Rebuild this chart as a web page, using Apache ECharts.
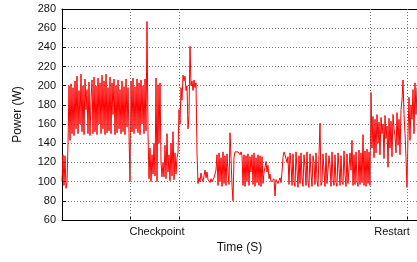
<!DOCTYPE html>
<html>
<head>
<meta charset="utf-8">
<script src="https://cdn.jsdelivr.net/npm/echarts@6/dist/echarts.min.js"></script>
<style>
  html, body { margin: 0; padding: 0; background: #fff; }
  #chart { width: 417px; height: 262px; }
</style>
</head>
<body>
<div id="chart"></div>
<script>
// power samples (W), one per time step
const warmup = [100, 128, 96, 127, 93, 99];
const computeBefore = [
  140, 200, 143, 202, 150, 198, 148, 205, 155, 210,
  150, 195, 160, 212, 152, 200, 149, 207, 175, 196,
  150, 204, 148, 185, 206, 150, 209, 152, 200, 149,
  208, 160, 203, 150, 211, 155, 205, 149, 212, 151,
  198, 153, 209, 150, 203, 170, 207, 149, 200, 151,
  206, 155, 196, 150, 205, 152, 199, 149, 207, 157,
  198, 150,
  100,
  205, 152, 208, 150, 199, 155, 207, 151, 203, 149,
  206, 160, 200, 150, 207, 153
];
const checkpoint = [
  267,
  150, 103, 135, 100, 128, 108, 140,
  106, 208, 100, 201, 140, 203, 120,
  105,
  120, 105, 138, 103, 150, 110, 128, 101, 140, 106, 152, 102, 130, 108, 125,
  130, 175, 160, 198, 185,
  211, 205, 210, 195, 200,
  155, 170,
  241, 200,
  205, 195, 206, 198, 203,
  130
];
const idleAfter = [
  98, 104, 100, 109, 103, 100, 106, 112, 104, 110,
  102, 101, 99, 103, 100, 98, 104, 106, 112,
  128, 96, 130, 100, 125, 95, 131, 98, 127, 96, 129, 110, 97, 151, 124, 96,
  80,
  125, 131, 130, 132, 131, 129, 128, 131, 127,
  96, 128, 95, 127, 100, 129, 96, 126, 110, 128, 97, 130, 95, 125, 99, 128,
  96, 127, 95, 126, 98, 110,
  115, 121, 110, 117, 103, 108, 100,
  101, 99, 103, 85, 102, 100, 98, 101, 104, 99,
  110, 125, 131, 128, 130, 120, 126, 97
];
const computeLow = [
  130, 118, 96, 129, 100, 95, 131, 112, 94, 127,
  98, 130, 104, 95, 128, 115, 96, 131, 99, 94,
  129, 108, 95, 127, 120, 97, 130, 101, 95, 128,
  161,
  96, 100, 129, 111, 95, 130, 98, 97, 127,
  118, 95, 131, 103, 96, 128, 99, 95, 130, 114,
  96, 127, 100, 97, 132, 107, 95, 129, 98, 96,
  130, 112, 143, 96, 128, 97, 131, 100, 95, 133,
  97, 130, 99,
  149,
  96, 132, 95, 134, 98, 131,
  96
];
const restart = [
  193,
  135, 168, 125, 165, 130, 170, 140, 162, 128, 167,
  150, 160, 124, 169, 145, 158, 115, 166, 135, 163,
  126, 170, 155, 148, 130, 172, 138, 165, 128, 175,
  185, 206, 170, 150,
  125,
  94,
  150, 188, 143, 180, 165, 196, 150, 203, 170, 198
];

const yTicks = [60, 80, 100, 120, 140, 160, 180, 200, 220, 240, 260, 280];
const markTimes = [68, 117, 308, 345];   // dotted vertical guides
const xLabels = ['Checkpoint', 'Restart'];
const xLabelTimes = [95, 330];

const power = [].concat(warmup, computeBefore, checkpoint, idleAfter, computeLow, restart);
const points = power.map((v, i) => [i, v]);

const font = "'Liberation Sans', Arial, sans-serif";
const chart = echarts.init(document.getElementById('chart'), null, { renderer: 'canvas' });

chart.setOption({
  animation: false,
  grid: { left: 62, top: 9, right: 0, bottom: 42, show: false },
  xAxis: [{
    type: 'value',
    min: 0, max: 355,
    name: 'Time (S)',
    nameLocation: 'middle',
    nameGap: 22,
    nameTextStyle: { fontFamily: font, fontSize: 12, color: '#111' },
    axisLine: { onZero: false, lineStyle: { color: '#000', width: 1 } },
    axisTick: { inside: true, length: 4, customValues: markTimes, lineStyle: { color: '#000' } },
    axisLabel: {
      customValues: xLabelTimes,
      formatter: v => xLabels[xLabelTimes.indexOf(v)] || '',
      fontFamily: font, fontSize: 11, color: '#111', margin: 6
    },
    splitLine: { show: false }
  }, {
    // top border of the plot box
    type: 'value',
    position: 'top',
    min: 0, max: 355,
    axisLine: { show: true, onZero: false, lineStyle: { color: '#000', width: 1 } },
    axisTick: { show: false },
    axisLabel: { show: false },
    splitLine: { show: false }
  }],
  yAxis: {
    type: 'value',
    min: yTicks[0], max: yTicks[yTicks.length - 1], interval: 20,
    name: 'Power (W)',
    nameLocation: 'middle',
    nameGap: 38,
    nameTextStyle: { fontFamily: font, fontSize: 12, color: '#111' },
    axisLine: { show: true, lineStyle: { color: '#000', width: 1 } },
    axisTick: { show: true, inside: true, length: 4, lineStyle: { color: '#000' } },
    axisLabel: { fontFamily: font, fontSize: 11, color: '#111', margin: 6 },
    splitLine: { show: true, lineStyle: { color: '#777', type: [1, 2], width: 1 } }
  },
  series: [{
    type: 'line',
    data: points,
    showSymbol: false,
    symbol: 'none',
    sampling: null,
    lineStyle: { color: '#ff0000', width: 1 },
    itemStyle: { color: '#ff0000' },
    markLine: {
      silent: true,
      symbol: 'none',
      label: { show: false },
      lineStyle: { color: '#777', type: [1, 2], width: 1 },
      data: markTimes.map(t => ({ xAxis: t }))
    },
    z: 3
  }]
});
</script>
</body>
</html>
